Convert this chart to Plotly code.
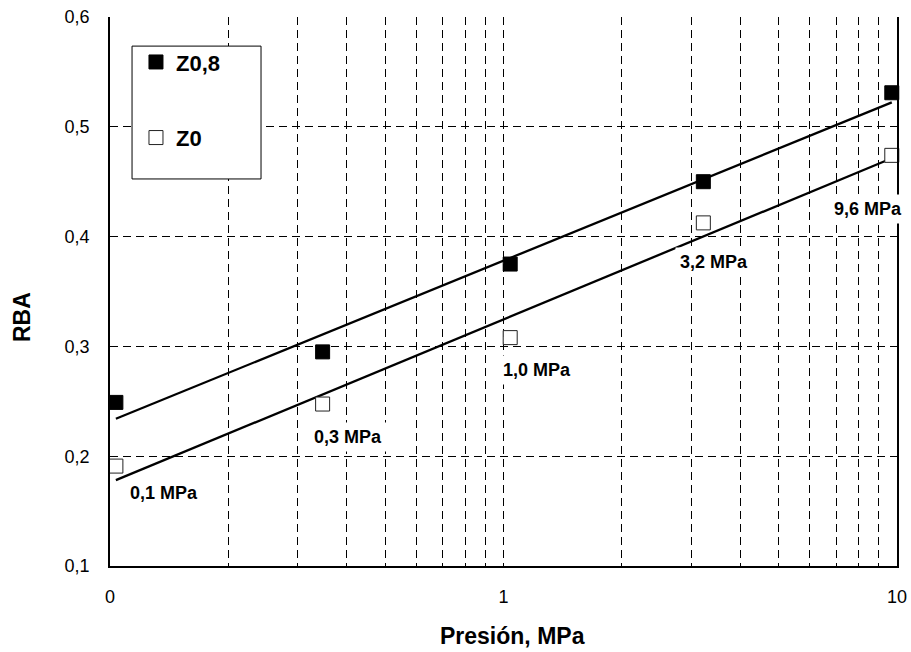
import math
import numpy as np
import plotly.graph_objects as go

# ---- data ----
pressure = [0.1035, 0.347, 1.04, 3.22, 9.7]          # MPa (log axis)
rba_z08 = [0.249, 0.295, 0.375, 0.450, 0.531]
rba_z0 = [0.191, 0.2475, 0.308, 0.4125, 0.474]
series_names = ["Z0,8", "Z0"]

point_labels = ["0,1 MPa", "0,3 MPa", "1,0 MPa", "3,2 MPa", "9,6 MPa"]
label_x = [0.1371, 0.4015, 1.22, 3.437, 8.44]
label_y = [0.1665, 0.2175, 0.2785, 0.3769, 0.4251]

xtick_vals = [0.1, 0.2, 0.3, 0.4, 0.5, 0.6, 0.7, 0.8, 0.9,
              1, 2, 3, 4, 5, 6, 7, 8, 9, 10]
xtick_text = ["0", "", "", "", "", "", "", "", "",
              "1", "", "", "", "", "", "", "", "", "10"]

FONT = "Liberation Sans, Arial, sans-serif"
W, H = 911, 652
ML, MR, MT, MB = 110, 14, 17, 86

fig = go.Figure()

# logarithmic trend lines (fit of RBA against log10 pressure)
lx = np.log10(pressure)
xs = np.logspace(lx.min(), lx.max(), 60)
for vals in (rba_z08, rba_z0):
    b, a = np.polyfit(lx, vals, 1)
    fig.add_trace(go.Scatter(
        x=xs, y=a + b * np.log10(xs), mode="lines",
        line=dict(color="black", width=2.3), showlegend=False,
        hoverinfo="skip"))

# markers
fig.add_trace(go.Scatter(
    x=pressure, y=rba_z08, mode="markers", name=series_names[0],
    legendgroup="a", cliponaxis=False,
    marker=dict(symbol="square", size=14, color="black",
                line=dict(color="black", width=1))))
fig.add_trace(go.Scatter(
    x=pressure, y=rba_z0, mode="markers", name=series_names[1],
    legendgroup="b", cliponaxis=False,
    marker=dict(symbol="square", size=14, color="white",
                line=dict(color="#222222", width=1))))

for t, xv, yv in zip(point_labels, label_x, label_y):
    fig.add_annotation(
        x=math.log10(xv), y=yv, text=t, showarrow=False,
        xref="x", yref="y", xanchor="center", yanchor="middle",
        font=dict(family=FONT, size=18, color="black", weight="bold"),
        bgcolor="white", borderpad=4)

# axis titles (placed as in the reference)
pw, ph = W - ML - MR, H - MT - MB
def px_to_paper(px, py):
    return (px - ML) / pw, (H - MB - py) / ph

tx, ty = px_to_paper(512, 636)
fig.add_annotation(x=tx, y=ty, xref="paper", yref="paper",
                   text="Presión, MPa", showarrow=False,
                   xanchor="center", yanchor="middle",
                   font=dict(family=FONT, size=23, color="black",
                             weight="bold"))
tx, ty = px_to_paper(22, 317)
fig.add_annotation(x=tx, y=ty, xref="paper", yref="paper",
                   text="RBA", showarrow=False, textangle=-90,
                   xanchor="center", yanchor="middle",
                   font=dict(family=FONT, size=23, color="black",
                             weight="bold"))

# legend box
fig.add_shape(type="rect", xref="paper", yref="paper",
              x0=0.028, x1=0.1919, y0=0.705, y1=0.947,
              line=dict(color="black", width=1), fillcolor="white",
              layer="above")

fig.update_layout(
    width=W, height=H,
    margin=dict(l=ML, r=MR, t=MT, b=MB),
    paper_bgcolor="white", plot_bgcolor="white",
    separators=",.",
    font=dict(family=FONT, color="black", size=18),
    showlegend=True,
    legend=dict(x=0.033, y=0.956, xanchor="left", yanchor="top",
                bgcolor="rgba(0,0,0,0)", borderwidth=0,
                tracegroupgap=44, itemwidth=30,
                font=dict(family=FONT, size=22, color="black",
                          weight="bold")),
    xaxis=dict(type="log", range=[-1, 1], automargin=False,
               tickvals=xtick_vals, ticktext=xtick_text,
               ticks="", ticklabelstandoff=14,
               tickfont=dict(size=18),
               showgrid=True, gridcolor="black", gridwidth=1,
               griddash="8px,5px",
               showline=True, linecolor="black", linewidth=1.5,
               mirror=False, zeroline=False),
    yaxis=dict(range=[0.1, 0.6], dtick=0.1, tick0=0.1, automargin=False,
               tickformat=".1f", ticks="", ticklabelstandoff=15,
               tickfont=dict(size=18),
               showgrid=True, gridcolor="black", gridwidth=1,
               griddash="8px,5px",
               showline=True, linecolor="black", linewidth=1.5,
               mirror=True, zeroline=False),
)

fig.write_html("out.html")
